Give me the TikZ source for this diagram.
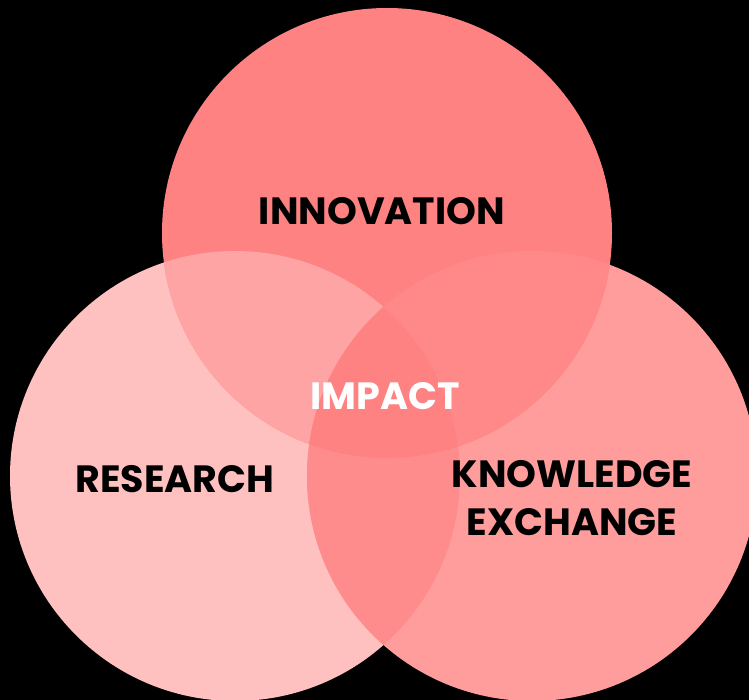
\documentclass[tikz,border=0pt]{standalone}
\usepackage{fontspec}
\setmainfont{Poppins}

\newcommand{\vennrad}{225pt}

% fills of the three sets and of their overlaps
\definecolor{innovfill}{HTML}{FF8282}
\definecolor{researchfill}{HTML}{FFC0C0}
\definecolor{knowfill}{HTML}{FF9D9D}
\definecolor{innovresearch}{HTML}{FFA4A4}
\definecolor{innovknow}{HTML}{FF8989}
\definecolor{researchknow}{HTML}{FF8C8C}
\definecolor{impactfill}{HTML}{FF8282}

\begin{document}
\begin{tikzpicture}[x=1pt,y=-1pt,
	setlabel/.style={font=\fontsize{38}{48}\selectfont\bfseries, align=center, inner sep=0pt}]

	\useasboundingbox (0,0) rectangle (749,700);
	\fill[black] (0,0) rectangle (749,700);

	\coordinate (cinnov) at (387,233);
	\coordinate (cresearch) at (235,476);
	\coordinate (cknow) at (532,476);

	\begin{scope}
		\clip (0,0) rectangle (749,700);
		\fill[researchfill] (cresearch) circle (\vennrad);
		\fill[knowfill] (cknow) circle (\vennrad);
		\fill[innovfill] (cinnov) circle (\vennrad);

		% pairwise overlaps
		\begin{scope}
			\clip (cinnov) circle (\vennrad);
			\fill[innovresearch] (cresearch) circle (\vennrad);
			\fill[innovknow] (cknow) circle (\vennrad);
		\end{scope}
		\begin{scope}
			\clip (cresearch) circle (\vennrad);
			\fill[researchknow] (cknow) circle (\vennrad);
		\end{scope}

		% middle, where all three meet
		\begin{scope}
			\clip (cinnov) circle (\vennrad);
			\clip (cresearch) circle (\vennrad);
			\fill[impactfill] (cknow) circle (\vennrad);
		\end{scope}
	\end{scope}

	\node[setlabel] (innov) at (382,211) {INNOVATION};
	\node[setlabel] (research) at (175,479) {RESEARCH};
	\node[setlabel] (knowex) at (572,498) {KNOWLEDGE\\EXCHANGE};
	\node[setlabel, text=white] (impact) at (385,396) {IMPACT};

\end{tikzpicture}
\end{document}
